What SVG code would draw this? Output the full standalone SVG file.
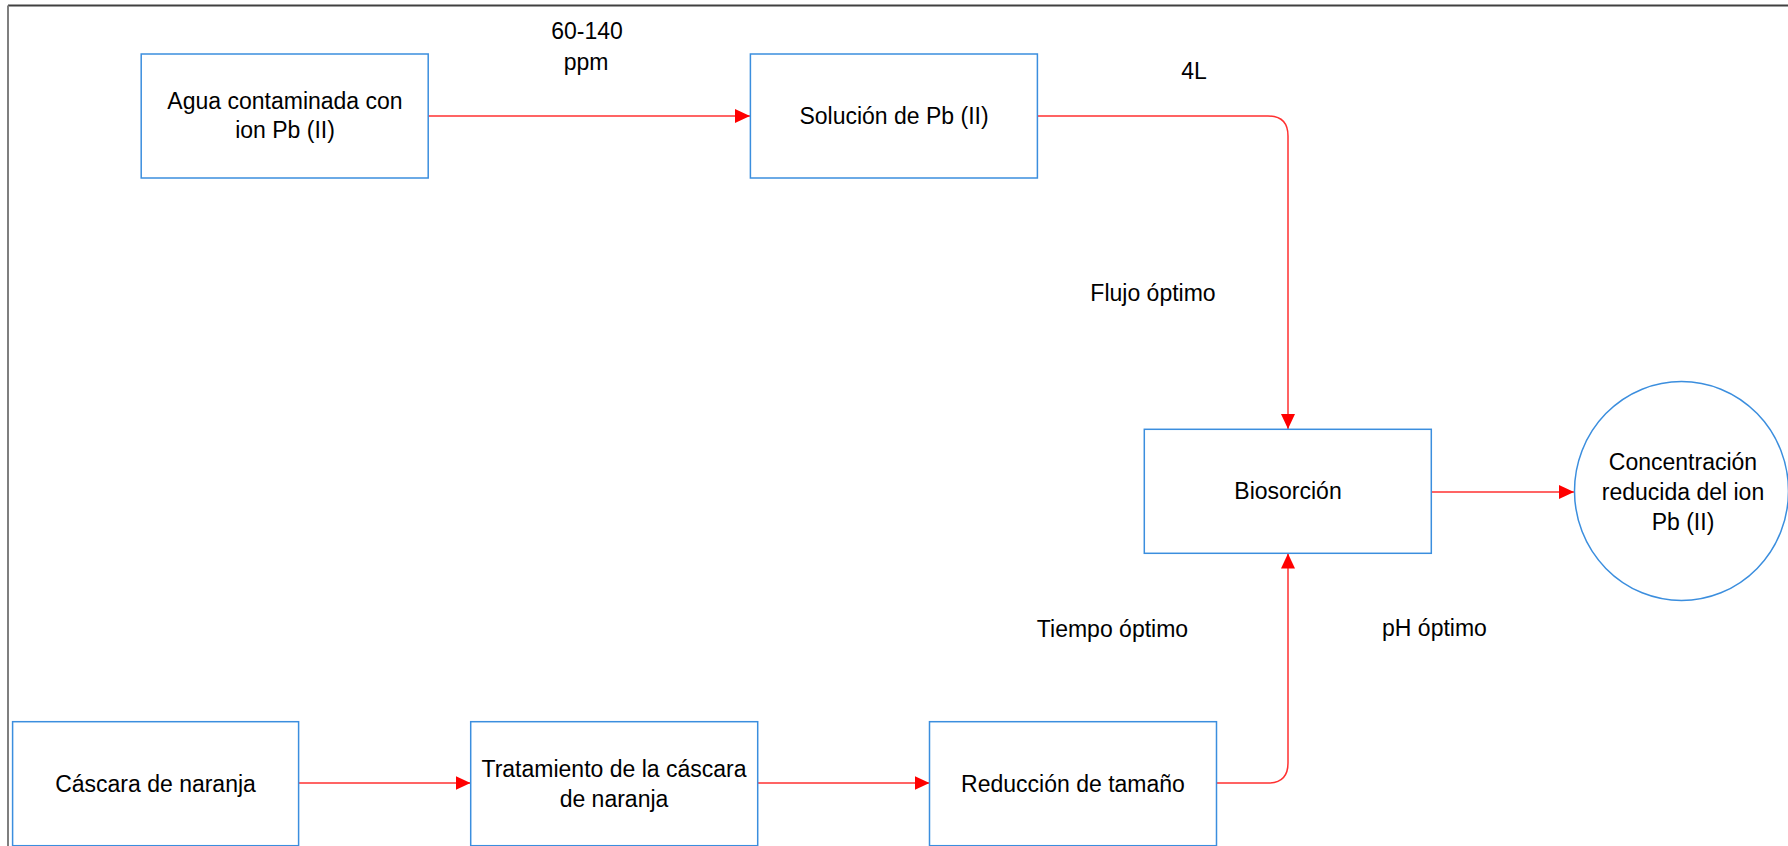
<svg xmlns="http://www.w3.org/2000/svg" width="1788" height="846" viewBox="0 0 1788 846">
<style>
.box{fill:#fff;stroke:#3b8ede;stroke-width:1.5}
.conn{fill:none;stroke:#ff3030;stroke-width:1.5}
text{font-family:"Liberation Sans",Arial,sans-serif;font-size:23px;fill:#000;text-anchor:middle}
</style>
<defs>
<marker id="ah" markerUnits="userSpaceOnUse" markerWidth="15" markerHeight="14" refX="15" refY="7" orient="auto">
<path d="M0,0 L15,7 L0,14 z" fill="#ff0000"/>
</marker>
</defs>
<rect x="0" y="0" width="1788" height="846" fill="#fff"/>
<g id="frame">
<path d="M8,5.5 H1788" stroke="#404040" stroke-width="2" fill="none"/>
<path d="M8,5.5 V846" stroke="#7f7f7f" stroke-width="2" fill="none"/>
</g>
<g id="connectors">
<path class="conn" d="M428,116 H750" marker-end="url(#ah)"/>
<path class="conn" d="M1037.5,116 H1268 Q1288,116 1288,136 V429" marker-end="url(#ah)"/>
<path class="conn" d="M1431,492 H1574" marker-end="url(#ah)"/>
<path class="conn" d="M298.5,783 H470.5" marker-end="url(#ah)"/>
<path class="conn" d="M757.7,783 H929.5" marker-end="url(#ah)"/>
<path class="conn" d="M1216,783 H1268 Q1288,783 1288,763 V553.5" marker-end="url(#ah)"/>
</g>
<g id="labels">
<text x="587" y="39">60-140</text>
<text x="586" y="70">ppm</text>
<text x="1194" y="79">4L</text>
<text x="1153" y="301">Flujo óptimo</text>
<text x="1112.5" y="637">Tiempo óptimo</text>
<text x="1434.5" y="636">pH óptimo</text>
</g>
<g id="agua">
<rect class="box" x="141.2" y="54" width="287" height="124"/>
<text x="285" y="109">Agua contaminada con</text>
<text x="285" y="138">ion Pb (II)</text>
</g>
<g id="solucion">
<rect class="box" x="750.4" y="54" width="287" height="124"/>
<text x="894" y="124">Solución de Pb (II)</text>
</g>
<g id="biosorcion">
<rect class="box" x="1144.3" y="429.3" width="287" height="124"/>
<text x="1288" y="499">Biosorción</text>
</g>
<g id="concentracion">
<ellipse class="box" cx="1681.5" cy="491" rx="107" ry="109.5"/>
<text x="1683" y="470">Concentración</text>
<text x="1683" y="499.5">reducida del ion</text>
<text x="1683" y="530">Pb (II)</text>
</g>
<g id="cascara">
<rect class="box" x="12.6" y="721.7" width="286" height="124"/>
<text x="155.5" y="791.7">Cáscara de naranja</text>
</g>
<g id="tratamiento">
<rect class="box" x="470.7" y="721.7" width="287" height="124"/>
<text x="614" y="776.7">Tratamiento de la cáscara</text>
<text x="614" y="806.7">de naranja</text>
</g>
<g id="reduccion">
<rect class="box" x="929.5" y="721.7" width="287" height="124"/>
<text x="1073" y="791.7">Reducción de tamaño</text>
</g>
</svg>
